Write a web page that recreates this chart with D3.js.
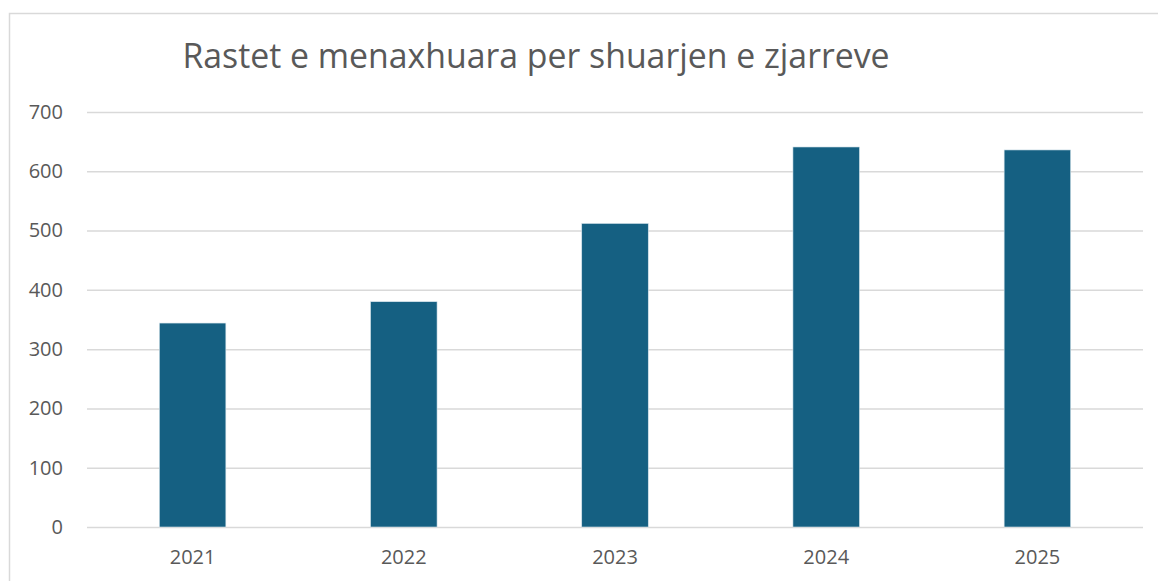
<!DOCTYPE html>
<html>
<head>
<meta charset="utf-8">
<script src="https://cdn.jsdelivr.net/npm/d3@7"></script>
<style>
  body { margin: 0; background: #fff; }
  svg { display: block; font-family: "Open Sans", "Liberation Sans", sans-serif; }
</style>
</head>
<body>
<div class="canvas"></div>
<script>
// Data
const years = ['2021', '2022', '2023', '2024', '2025'];
const cases = [344, 380, 512, 641, 636];
const yTicks = [0, 100, 200, 300, 400, 500, 600, 700];
const title = 'Rastet e menaxhuara per shuarjen e zjarreve';

const width = 1158, height = 581;
const margin = { top: 112, right: 15, bottom: 54, left: 87 };

const svg = d3.select('.canvas')
    .append('svg')
    .attr('width', width)
    .attr('height', height);

// chart border (runs off the right and bottom edge)
svg.append('rect')
    .attr('x', 9.5).attr('y', 13.5)
    .attr('width', width).attr('height', height)
    .attr('fill', 'none')
    .attr('stroke', '#d9d9d9')
    .attr('stroke-width', 1.5);

const x = d3.scaleBand()
    .domain(years)
    .range([margin.left, width - margin.right])
    .paddingInner(0.685)
    .paddingOuter(0.3425);

const y = d3.scaleLinear()
    .domain([0, 700])
    .range([height - margin.bottom, margin.top]);

// gridlines + y labels
const yAxis = svg.append('g')
    .attr('transform', `translate(${margin.left},0)`)
    .call(d3.axisLeft(y).tickValues(yTicks)
        .tickSize(-(width - margin.right - margin.left))
        .tickPadding(24))
    .attr('font-family', null)
    .attr('font-size', null);
yAxis.select('.domain').remove();
yAxis.selectAll('line').attr('stroke', '#d9d9d9').attr('stroke-width', 1.5);
yAxis.selectAll('text')
    .attr('fill', '#595959')
    .style('font-size', '20px');

// bars
svg.append('g')
    .selectAll('rect')
    .data(cases)
    .join('rect')
    .attr('x', (d, i) => x(years[i]))
    .attr('y', d => y(d))
    .attr('width', x.bandwidth())
    .attr('height', d => y(0) - y(d))
    .attr('fill', '#156082')
    .attr('stroke', '#d6e4ec')
    .attr('stroke-width', 0.6);

// x labels
const xAxis = svg.append('g')
    .attr('transform', `translate(0,${y(0)})`)
    .call(d3.axisBottom(x).tickSize(0).tickPadding(23))
    .attr('font-family', null)
    .attr('font-size', null);
xAxis.select('.domain').remove();
xAxis.selectAll('text')
    .attr('fill', '#595959')
    .style('font-size', '20px');

// title, sized to the width it has in the original
const t = svg.append('text')
    .attr('x', 536)
    .attr('y', 68)
    .attr('text-anchor', 'middle')
    .attr('fill', '#595959')
    .style('font-size', '30px')
    .text(title);
const tw = t.node().getComputedTextLength();
t.style('font-size', (30 * 708 / tw).toFixed(1) + 'px');
</script>
</body>
</html>
